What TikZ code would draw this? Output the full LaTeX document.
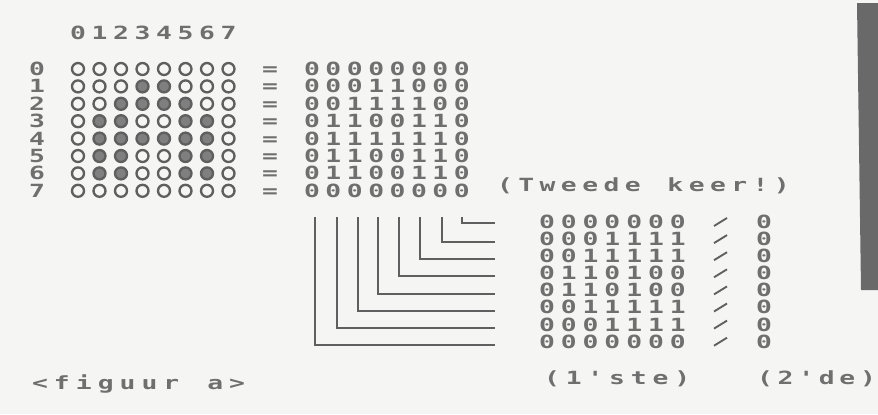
\documentclass[tikz,border=0pt]{standalone}
\usepackage{fontspec}
\newfontfamily\scrfont[FakeStretch=1.45]{DejaVu Sans Mono}
\definecolor{paper}{RGB}{245,245,243}
\definecolor{ink}{RGB}{95,95,95}
\definecolor{slab}{RGB}{105,105,105}
\tikzset{
  chr/.style={text=ink!90, font=\scrfont\bfseries\fontsize{15.5}{15.5}\selectfont, inner sep=0pt,
    text height=11pt, text depth=0pt, anchor=center},
  ring/.style={draw=ink, line width=2pt, circle, minimum size=0.36cm, inner sep=0pt},
  blob/.style={ring, fill=ink!80},
  stroke/.style={draw=ink, line width=2.4pt},
}
\begin{document}
\begin{tikzpicture}[x=0.03cm, y=-0.03cm]
  \fill[paper] (0,0) rectangle (878,414);
  \useasboundingbox (0,0) rectangle (878,414);
  \fill[slab] (857,3) -- (878,3) -- (878,290) -- (861,290) -- cycle;

  % kolomnummers
  \foreach \c in {0,...,7}
    \node[chr] (hd\c) at (78+21.5*\c,33) {\c};

  % figuur a: punten en bits
  \foreach \row [count=\j from 0] in {{0,0,0,0,0,0,0,0},{0,0,0,1,1,0,0,0},{0,0,1,1,1,1,0,0},
      {0,1,1,0,0,1,1,0},{0,1,1,1,1,1,1,0},{0,1,1,0,0,1,1,0},{0,1,1,0,0,1,1,0},{0,0,0,0,0,0,0,0}} {
    \node[chr] (rw\j) at (37,69+17.4*\j) {\j};
    \node[chr] (eq\j) at (270,69+17.4*\j) {=};
    \foreach \b [count=\i from 0] in \row {
      \ifnum\b=1
        \node[blob] (dt-\i-\j) at (78+21.5*\i,69+17.4*\j) {};
      \else
        \node[ring] (dt-\i-\j) at (78+21.5*\i,69+17.4*\j) {};
      \fi
      \node[chr] (bt-\i-\j) at (312+21.4*\i,69+17.4*\j) {\b};
    }
  }

  \foreach \c [count=\k from 0] in {{(},T,w,e,e,d,e,{},k,e,e,r,!,{)}}
    \node[chr] (tk\k) at (505+21.3*\k,185) {\c};

  % hoeklijnen
  \foreach \vx/\hy in {315/345,337/328,358/311,378/294,399/276,420/259,442/242,462/223}
    \draw[stroke] (\vx,217) |- (495,\hy);

  % tweede keer: bits, schuine streep, nul
  \foreach \row [count=\j from 0] in {{0,0,0,0,0,0,0},{0,0,0,1,1,1,1},{0,0,1,1,1,1,1},
      {0,1,1,0,1,0,0},{0,1,1,0,1,0,0},{0,0,1,1,1,1,1},{0,0,0,1,1,1,1},{0,0,0,0,0,0,0}} {
    \foreach \b [count=\i from 0] in \row
      \node[chr] (sb-\i-\j) at (547+21.8*\i,222+17.1*\j) {\b};
    \draw[ink, line width=1.6pt] (714,222+17.1*\j+4) -- (727,222+17.1*\j-4);
    \node[chr] (nl\j) at (764,222+17.1*\j) {0};
  }

  % onderschriften
  \foreach \c [count=\k from 0] in {<,f,i,g,u,u,r,{},a,>}
    \node[chr] (fg\k) at (40+21.9*\k,383) {\c};
  \foreach \c [count=\k from 0] in {{(},1,',s,t,e,{)}}
    \node[chr] (st\k) at (552+21.7*\k,378) {\c};
  \foreach \c [count=\k from 0] in {{(},2,',d,e,{)}}
    \node[chr] (de\k) at (765+20.6*\k,378) {\c};
\end{tikzpicture}
\end{document}
